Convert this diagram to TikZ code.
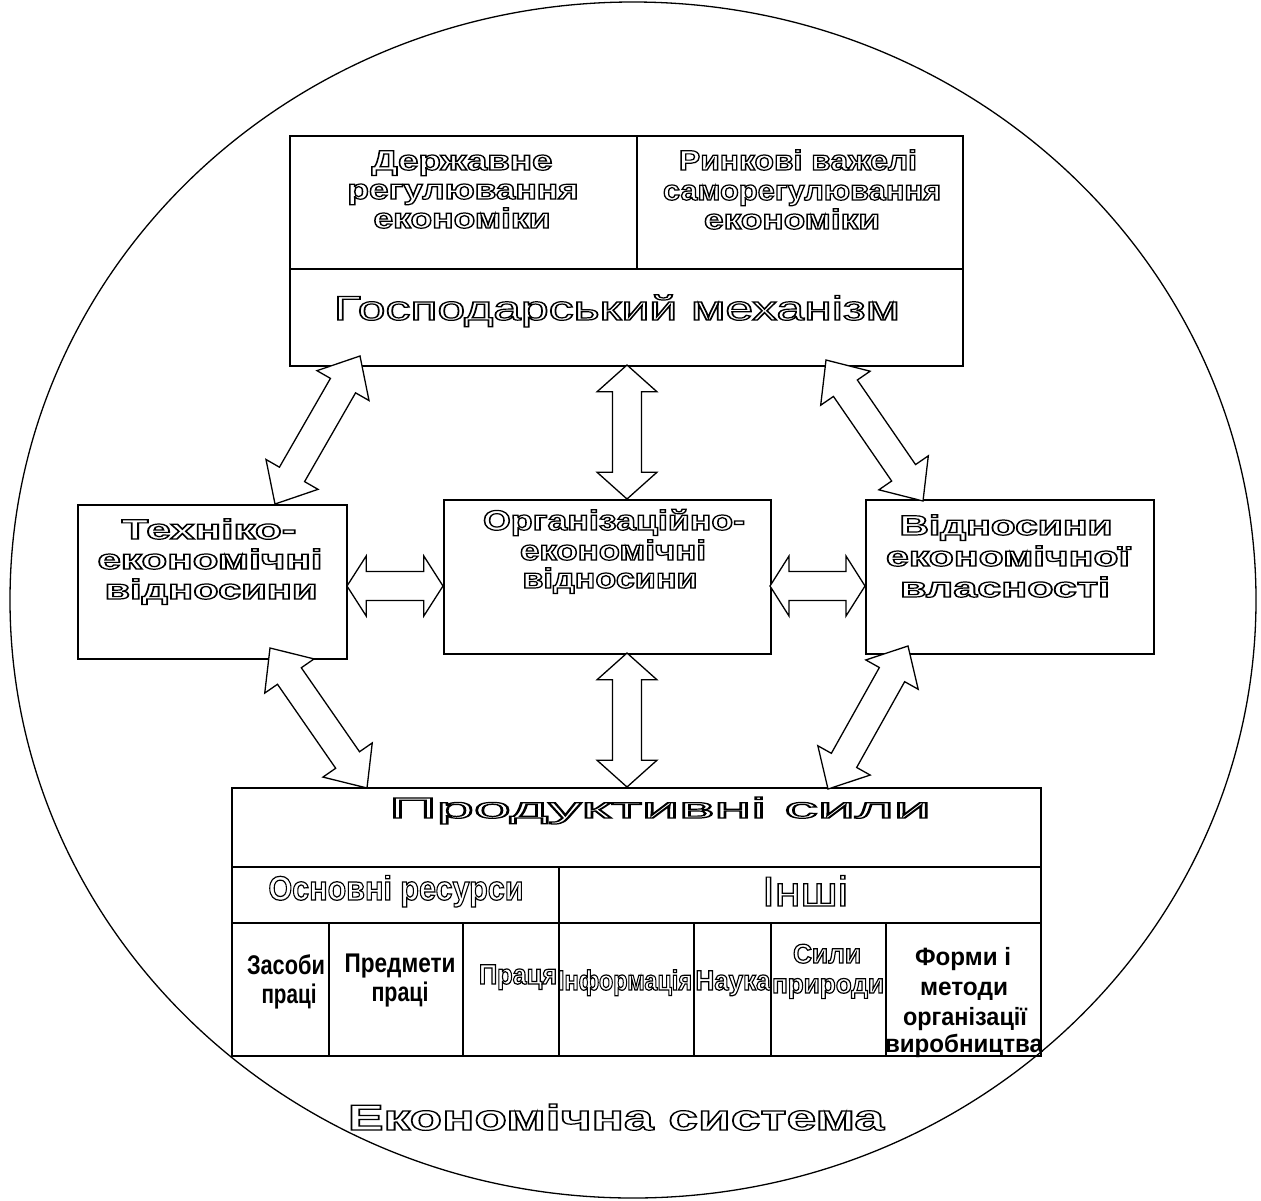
\documentclass[tikz,border=0pt]{standalone}
\usepackage{fontspec}
\setmainfont{Liberation Sans}
\usetikzlibrary{calc,shapes.geometric}
\newlength\fitlen
\newcommand\fitw[3]{\settowidth\fitlen{#2#3}\pgfmathsetmacro\myfitsx{#1/\fitlen}\scalebox{\myfitsx}[1]{#2#3}}
\newcommand\OL{\special{pdf:code 1 Tr 1.2 w}}
\newcommand\FB[1]{\fontsize{#1}{#1}\selectfont\bfseries\OL}
\newcommand\FR[1]{\fontsize{#1}{#1}\selectfont\OL}
\newcommand\FF[1]{\fontsize{#1}{#1}\selectfont\bfseries}
\tikzset{
  box/.style={draw, line width=1.5pt, inner sep=0pt, anchor=north west},
  txt/.style={inner sep=0pt, anchor=base},
  barrow/.style={draw, line width=1.3pt, fill=white, line join=miter},
}
\newcommand\dblarrow[2]{%
 \path[barrow] let \p1=($(#2)-(#1)$), \n1={veclen(\x1,\y1)}, \n2={atan2(\y1,\x1)}, \n3={0.2*\n1} in
 (#1) -- ($(#1)+(\n2:\n3)+(\n2+90:30pt)$) -- ($(#1)+(\n2:\n3)+(\n2+90:14.5pt)$)
 -- ($(#1)+(\n2:\n1-\n3)+(\n2+90:14.5pt)$) -- ($(#1)+(\n2:\n1-\n3)+(\n2+90:30pt)$)
 -- (#2)
 -- ($(#1)+(\n2:\n1-\n3)+(\n2-90:30pt)$) -- ($(#1)+(\n2:\n1-\n3)+(\n2-90:14.5pt)$)
 -- ($(#1)+(\n2:\n3)+(\n2-90:14.5pt)$) -- ($(#1)+(\n2:\n3)+(\n2-90:30pt)$) -- cycle;}
\begin{document}
\begin{tikzpicture}[x=1pt,y=-1pt]
\useasboundingbox (0,0) rectangle (1261,1200);
% system ellipse
\node[draw, ellipse, line width=1.3pt, minimum width=1246pt, minimum height=1196pt, inner sep=0pt] (sys) at (633,600) {};
% top block
\node[box, minimum width=347pt, minimum height=133pt] (gmA) at (289,135) {};
\node[box, minimum width=326pt, minimum height=133pt] (gmB) at (636,135) {};
\node[box, minimum width=673pt, minimum height=97pt] (gmC) at (289,268) {};
% middle blocks
\node[box, minimum width=269pt, minimum height=154pt] (tech) at (77,504) {};
\node[box, minimum width=327pt, minimum height=154pt] (org) at (443,499) {};
\node[box, minimum width=288pt, minimum height=154pt] (own) at (865,499) {};
% bottom block
\node[box, minimum width=809pt, minimum height=79pt] (ps) at (231,787) {};
\node[box, minimum width=327pt, minimum height=56pt] (osn) at (231,866) {};
\node[box, minimum width=482pt, minimum height=56pt] (inshi) at (558,866) {};
\node[box, minimum width=97pt, minimum height=133pt] (c1) at (231,922) {};
\node[box, minimum width=134pt, minimum height=133pt] (c2) at (328,922) {};
\node[box, minimum width=96pt, minimum height=133pt] (c3) at (462,922) {};
\node[box, minimum width=135pt, minimum height=133pt] (c4) at (558,922) {};
\node[box, minimum width=77pt, minimum height=133pt] (c5) at (693,922) {};
\node[box, minimum width=115pt, minimum height=133pt] (c6) at (770,922) {};
\node[box, minimum width=155pt, minimum height=133pt] (c7) at (885,922) {};
% arrow end points
\coordinate (a1s) at (360,356); \coordinate (a1e) at (275,504);
\coordinate (a2s) at (826,360); \coordinate (a2e) at (923,501);
\coordinate (a3s) at (627,365); \coordinate (a3e) at (627,499);
\coordinate (a4s) at (347,586); \coordinate (a4e) at (443,586);
\coordinate (a5s) at (770,586); \coordinate (a5e) at (865,586);
\coordinate (a6s) at (270,648); \coordinate (a6e) at (367,788);
\coordinate (a7s) at (908,646); \coordinate (a7e) at (828,789);
\coordinate (a8s) at (627,653); \coordinate (a8e) at (627,787);
\dblarrow{a1s}{a1e}
\dblarrow{a2s}{a2e}
\dblarrow{a3s}{a3e}
\dblarrow{a4s}{a4e}
\dblarrow{a5s}{a5e}
\dblarrow{a6s}{a6e}
\dblarrow{a7s}{a7e}
\dblarrow{a8s}{a8e}
% texts top
\node[txt] (t1a) at (462,170) {\fitw{181}{\FB{28}}{Державне}};
\node[txt] (t1b) at (463,199) {\fitw{231}{\FB{28}}{регулювання}};
\node[txt] (t1c) at (462,228) {\fitw{177}{\FB{28}}{економіки}};
\node[txt] (t2a) at (798,170) {\fitw{238}{\FB{28}}{Ринкові важелі}};
\node[txt] (t2b) at (802,200) {\fitw{278}{\FB{28}}{саморегулювання}};
\node[txt] (t2c) at (792,229) {\fitw{176}{\FB{28}}{економіки}};
\node[txt] (t3) at (617,320) {\fitw{566}{\FR{34}}{Господарський механізм}};
% texts middle
\node[txt] (t4a) at (209,539) {\fitw{175}{\FB{28}}{Техніко-}};
\node[txt] (t4b) at (210,569) {\fitw{225}{\FB{28}}{економічні}};
\node[txt] (t4c) at (211,599) {\fitw{213}{\FB{28}}{відносини}};
\node[txt] (t5a) at (614,530) {\fitw{262}{\FB{28}}{Організаційно-}};
\node[txt] (t5b) at (613,560) {\fitw{186}{\FB{28}}{економічні}};
\node[txt] (t5c) at (610,588) {\fitw{175}{\FB{28}}{відносини}};
\node[txt] (t6a) at (1006,535) {\fitw{213}{\FB{28}}{Відносини}};
\node[txt] (t6b) at (1008,566) {\fitw{244}{\FB{28}}{економічної}};
\node[txt] (t6c) at (1005,597) {\fitw{210}{\FB{28}}{власності}};
% texts bottom
\node[txt] (t7) at (660,818) {\fitw{542}{\FR{29}}{Продуктивні сили}};
\node[txt] (t8) at (396,900) {\fitw{255}{\FB{34}}{Основні ресурси}};
\node[txt] (t9) at (805,906) {\fitw{86}{\FR{42}}{Інші}};
\node[txt] (t10a) at (286,974) {\fitw{78}{\FF{27}}{Засоби}};
\node[txt] (t10b) at (289,1003) {\fitw{55}{\FF{27}}{праці}};
\node[txt] (t11a) at (400,972) {\fitw{111}{\FF{27}}{Предмети}};
\node[txt] (t11b) at (400,1001) {\fitw{57}{\FF{27}}{праці}};
\node[txt] (t12) at (518,984) {\fitw{78}{\FB{28}}{Праця}};
\node[txt] (t13) at (625,990) {\fitw{134}{\FB{28}}{Інформація}};
\node[txt] (t14) at (733,990) {\fitw{75}{\FB{28}}{Наука}};
\node[txt] (t15a) at (827,963) {\fitw{68}{\FB{27}}{Сили}};
\node[txt] (t15b) at (828,993) {\fitw{112}{\FB{27}}{природи}};
\node[txt] (t16a) at (963,965) {\fitw{96}{\FF{25}}{Форми і}};
\node[txt] (t16b) at (964,995) {\fitw{88}{\FF{25}}{методи}};
\node[txt] (t16c) at (965,1025) {\fitw{124}{\FF{25}}{організації}};
\node[txt] (t16d) at (964,1052) {\fitw{158}{\FF{25}}{виробництва}};
\node[txt] (t17) at (616,1130) {\fitw{536}{\FB{36}}{Економічна система}};
\end{tikzpicture}
\end{document}
